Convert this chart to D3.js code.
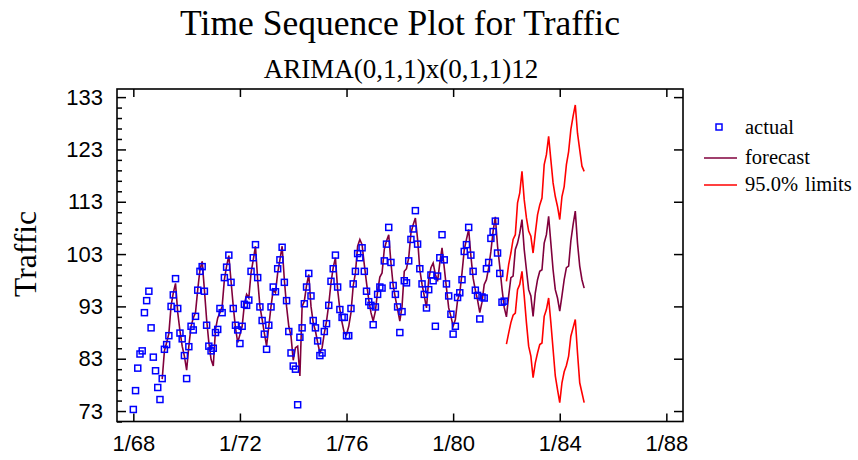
<!DOCTYPE html>
<html>
<head>
<meta charset="utf-8">
<script src="https://cdn.jsdelivr.net/npm/d3@7"></script>
<style>
  html, body { margin: 0; padding: 0; background: #ffffff; }
  svg { display: block; }
</style>
</head>
<body>
<svg id="chart" width="858" height="460"></svg>
<script>
// ---------------- data ----------------
const title = "Time Sequence Plot for Traffic";
const subtitle = "ARIMA(0,1,1)x(0,1,1)12";
const yLabel = "Traffic";
const legendLabels = ["actual", "forecast", "95.0%", "limits"];

// months are counted from 1/68 (index 0)
const xTickMonths = [0, 48, 96, 144, 192, 240];
const xTickLabels = ["1/68", "1/72", "1/76", "1/80", "1/84", "1/88"];
const yTickValues = [73, 83, 93, 103, 113, 123, 133];

// actual observations, 1/68 .. 12/81
const actual = [
  73.3, 76.9, 81.2, 83.9, 84.5, 91.8, 94.1, 95.9, 88.9, 83.3, 80.7, 77.5,
  75.2, 79.2, 84.8, 85.7, 87.4, 93.0, 95.2, 98.3, 92.6, 87.9, 86.8, 83.6,
  79.2, 85.3, 89.2, 88.5, 91.1, 96.1, 99.7, 100.6, 95.9, 89.4, 85.4, 84.5,
  85.0, 88.0, 88.6, 92.6, 91.8, 98.5, 100.5, 102.8, 97.6, 92.6, 89.4, 88.5,
  85.9, 89.2, 93.4, 93.2, 94.2, 99.7, 102.3, 104.8, 98.5, 92.9, 90.3, 87.7,
  84.8, 89.4, 92.9, 96.7, 95.8, 100.2, 101.9, 104.3, 97.6, 94.1, 88.2, 84.1,
  81.6, 81.0, 74.2, 87.1, 88.9, 93.5, 96.7, 99.3, 95.0, 90.3, 88.9, 86.4,
  83.6, 84.1, 88.2, 89.7, 93.2, 97.8, 100.2, 102.8, 96.7, 92.4, 90.9, 90.9,
  87.4, 87.4, 92.6, 97.3, 99.7, 103.1, 102.3, 104.2, 99.7, 95.9, 93.9, 93.2,
  89.5, 92.9, 95.3, 96.7, 96.5, 101.7, 104.9, 108.1, 101.4, 97.0, 95.3, 92.9,
  88.0, 92.0, 97.9, 97.5, 101.7, 105.8, 107.8, 111.3, 104.9, 100.2, 97.3, 95.3,
  92.7, 96.2, 99.0, 97.9, 89.2, 98.8, 102.3, 106.7, 101.9, 97.3, 95.0, 91.5,
  87.7, 89.2, 94.7, 95.6, 98.1, 103.5, 104.8, 108.1, 102.8, 99.7, 96.1, 95.1,
  90.6, 94.8, 94.6, 100.2, 101.4, 106.0, 107.3, 109.3, 103.2, 99.3, 93.8, 94.0
];

// one-step-ahead forecasts, starting at 2/69 (month index 13)
const fittedStart = 13;
const fitted = [
                                    79.1, 84.5, 86.1, 87.8, 93.1, 95.6, 97.4, 91.8, 88.3, 85.4, 83.5,
  80.8, 85.4, 89.2, 90.8, 91.8, 96.2, 100.0, 101.6, 96.2, 90.5, 86.1, 82.9,
  81.6, 88.6, 90.8, 91.8, 93.0, 98.1, 100.7, 102.7, 97.8, 93.0, 88.9, 86.1,
  87.6, 89.2, 93.4, 95.3, 94.6, 99.4, 101.9, 104.5, 98.1, 93.0, 90.5, 87.9,
  85.4, 89.2, 93.0, 96.2, 95.6, 99.4, 101.9, 104.5, 98.1, 93.0, 89.2, 87.3,
  82.7, 85.1, 85.4, 79.7, 93.0, 94.0, 97.0, 99.1, 93.0, 89.9, 88.3, 86.1,
  84.1, 85.1, 87.9, 90.2, 93.4, 97.5, 100.4, 102.3, 96.2, 92.4, 89.9, 87.9,
  87.6, 89.2, 91.8, 96.9, 99.4, 104.5, 105.8, 104.8, 101.0, 97.5, 94.3, 91.8,
  90.2, 92.1, 95.9, 98.6, 99.4, 103.9, 105.5, 106.7, 101.3, 97.0, 94.6, 92.4,
  90.2, 93.0, 99.7, 100.2, 102.3, 107.0, 108.6, 109.9, 105.8, 100.0, 97.2, 95.0,
  92.7, 98.1, 100.4, 101.3, 99.1, 97.8, 101.3, 104.2, 100.4, 96.5, 92.7, 91.1,
  89.2, 90.5, 94.2, 95.6, 99.4, 103.8, 105.8, 107.7, 102.6, 98.4, 96.1, 94.2,
  91.8, 93.8, 97.2, 98.1, 100.4, 103.5, 107.4, 110.1, 104.5, 100.6, 96.4, 92.8
];

// forecasts 1/82 .. 12/84 with 95% limits
const forecastStart = 168;
const forecast = [
  91.0, 95.0, 98.5, 98.8, 103.9, 105.1, 107.0, 109.6, 103.9, 100.0, 96.2, 95.0,
  91.1, 95.6, 98.1, 99.7, 100.0, 105.1, 106.7, 110.2, 105.1, 100.0, 96.2, 94.6,
  92.1, 95.0, 98.1, 100.4, 100.7, 105.5, 108.6, 111.2, 105.1, 100.7, 98.1, 96.5
];
const upper = [
  97.8, 101.0, 103.2, 105.8, 106.7, 112.8, 114.7, 118.8, 113.4, 109.9, 107.4, 106.4,
  103.2, 107.0, 110.5, 112.4, 113.7, 120.1, 122.0, 125.5, 121.0, 116.6, 114.0, 112.1,
  109.6, 114.0, 115.9, 120.1, 122.6, 126.8, 129.3, 131.5, 126.1, 122.9, 119.8, 118.8
];
const lower = [
  85.8, 87.9, 89.9, 91.3, 91.7, 96.2, 97.2, 99.7, 95.0, 89.9, 85.4, 83.5,
  79.4, 82.2, 84.1, 85.7, 86.0, 91.1, 92.4, 94.6, 89.9, 84.8, 79.7, 77.1,
  74.6, 78.4, 80.5, 81.7, 83.5, 87.3, 88.9, 90.5, 84.1, 78.4, 76.5, 74.6
];

// ---------------- chart ----------------
const svg = d3.select("#chart");
const frame = { left: 117, right: 683, top: 89, bottom: 421.5 };

const x = d3.scaleLinear().domain([-7.35, 247.5]).range([frame.left, frame.right]);
const y = d3.scaleLinear().domain([71.0, 134.55]).range([frame.bottom, frame.top]);

const serif = "'Liberation Serif', 'Times New Roman', serif";
const sans = "'Liberation Sans', Arial, sans-serif";

const C_ACTUAL = "#0000ff";
const C_FORECAST = "#80003c";
const C_LIMIT = "#ff0000";

// titles
svg.append("text").attr("x", 400).attr("y", 35)
  .attr("text-anchor", "middle").attr("font-family", serif).attr("font-size", 35.5)
  .text(title);
svg.append("text").attr("x", 401).attr("y", 78)
  .attr("text-anchor", "middle").attr("font-family", serif).attr("font-size", 27)
  .text(subtitle);
svg.append("text")
  .attr("transform", "translate(36,254) rotate(-90)")
  .attr("text-anchor", "middle").attr("font-family", serif).attr("font-size", 31.5)
  .text(yLabel);

// clip
svg.append("clipPath").attr("id", "plotclip").append("rect")
  .attr("x", frame.left).attr("y", frame.top)
  .attr("width", frame.right - frame.left).attr("height", frame.bottom - frame.top);
const plot = svg.append("g").attr("clip-path", "url(#plotclip)");

// series data
const actualData = actual.map((v, i) => ({ m: i, v }));
const fittedData = fitted.map((v, i) => ({ m: i + fittedStart, v }));
const fcData = forecast.map((v, i) => ({ m: i + forecastStart, v }));
const upData = upper.map((v, i) => ({ m: i + forecastStart, v }));
const loData = lower.map((v, i) => ({ m: i + forecastStart, v }));

const line = d3.line().x(d => x(d.m)).y(d => y(d.v));

plot.append("path").datum(upData).attr("d", line)
  .attr("fill", "none").attr("stroke", C_LIMIT).attr("stroke-width", 1.6);
plot.append("path").datum(loData).attr("d", line)
  .attr("fill", "none").attr("stroke", C_LIMIT).attr("stroke-width", 1.6);
plot.append("path").datum(fittedData.concat(fcData)).attr("d", line)
  .attr("fill", "none").attr("stroke", C_FORECAST).attr("stroke-width", 1.6);

const sq = 6;
plot.selectAll("rect.pt").data(actualData).join("rect")
  .attr("class", "pt")
  .attr("x", d => x(d.m) - sq / 2).attr("y", d => y(d.v) - sq / 2)
  .attr("width", sq).attr("height", sq)
  .attr("fill", "none").attr("stroke", C_ACTUAL).attr("stroke-width", 1.5);

// axes (ticks pointing inward, mirrored on all sides)
const yMinor = d3.range(71, 135, 2).filter(v => v >= 71.0 && v <= 134.5);
const axG = svg.append("g");

const xAxisB = d3.axisBottom(x).tickValues(xTickMonths)
  .tickFormat((d, i) => xTickLabels[i]).tickSizeInner(-8).tickSizeOuter(0).tickPadding(14);
const gB = axG.append("g").attr("transform", `translate(0,${frame.bottom})`).call(xAxisB);
gB.select(".domain").remove();
gB.selectAll("text").attr("font-family", sans).attr("font-size", 22).attr("fill", "#000");

const xAxisT = d3.axisTop(x).tickValues(xTickMonths).tickFormat("").tickSizeInner(-8).tickSizeOuter(0);
const gT = axG.append("g").attr("transform", `translate(0,${frame.top})`).call(xAxisT);
gT.select(".domain").remove();

const yAxisL = d3.axisLeft(y).tickValues(yTickValues).tickSizeInner(-9).tickSizeOuter(0).tickPadding(14);
const gL = axG.append("g").attr("transform", `translate(${frame.left},0)`).call(yAxisL);
gL.select(".domain").remove();
gL.selectAll("text").attr("font-family", sans).attr("font-size", 22).attr("fill", "#000");

const yAxisLm = d3.axisLeft(y).tickValues(yMinor.filter(v => !yTickValues.includes(v)))
  .tickFormat("").tickSizeInner(-5).tickSizeOuter(0);
const gLm = axG.append("g").attr("transform", `translate(${frame.left},0)`).call(yAxisLm);
gLm.select(".domain").remove();

const yAxisR = d3.axisRight(y).tickValues(yTickValues).tickFormat("").tickSizeInner(-9).tickSizeOuter(0);
const gR = axG.append("g").attr("transform", `translate(${frame.right},0)`).call(yAxisR);
gR.select(".domain").remove();

axG.selectAll(".tick line").attr("stroke", "#000").attr("stroke-width", 1.5);

svg.append("rect")
  .attr("x", frame.left).attr("y", frame.top)
  .attr("width", frame.right - frame.left).attr("height", frame.bottom - frame.top)
  .attr("fill", "none").attr("stroke", "#000").attr("stroke-width", 1.6);

// legend
const lg = svg.append("g").attr("font-family", serif).attr("font-size", 20.5);
lg.append("rect").attr("x", 716).attr("y", 124).attr("width", sq).attr("height", sq)
  .attr("fill", "none").attr("stroke", C_ACTUAL).attr("stroke-width", 1.5);
lg.append("line").attr("x1", 704).attr("x2", 737).attr("y1", 158).attr("y2", 158)
  .attr("stroke", C_FORECAST).attr("stroke-width", 1.6);
lg.append("line").attr("x1", 704).attr("x2", 737).attr("y1", 185).attr("y2", 185)
  .attr("stroke", C_LIMIT).attr("stroke-width", 1.6);
lg.append("text").attr("x", 745).attr("y", 134).text(legendLabels[0]);
lg.append("text").attr("x", 745).attr("y", 164).text(legendLabels[1]);
const lim = lg.append("text").attr("x", 745).attr("y", 191);
lim.append("tspan").text(legendLabels[2]);
lim.append("tspan").attr("dx", 7).text(legendLabels[3]);
</script>
</body>
</html>
